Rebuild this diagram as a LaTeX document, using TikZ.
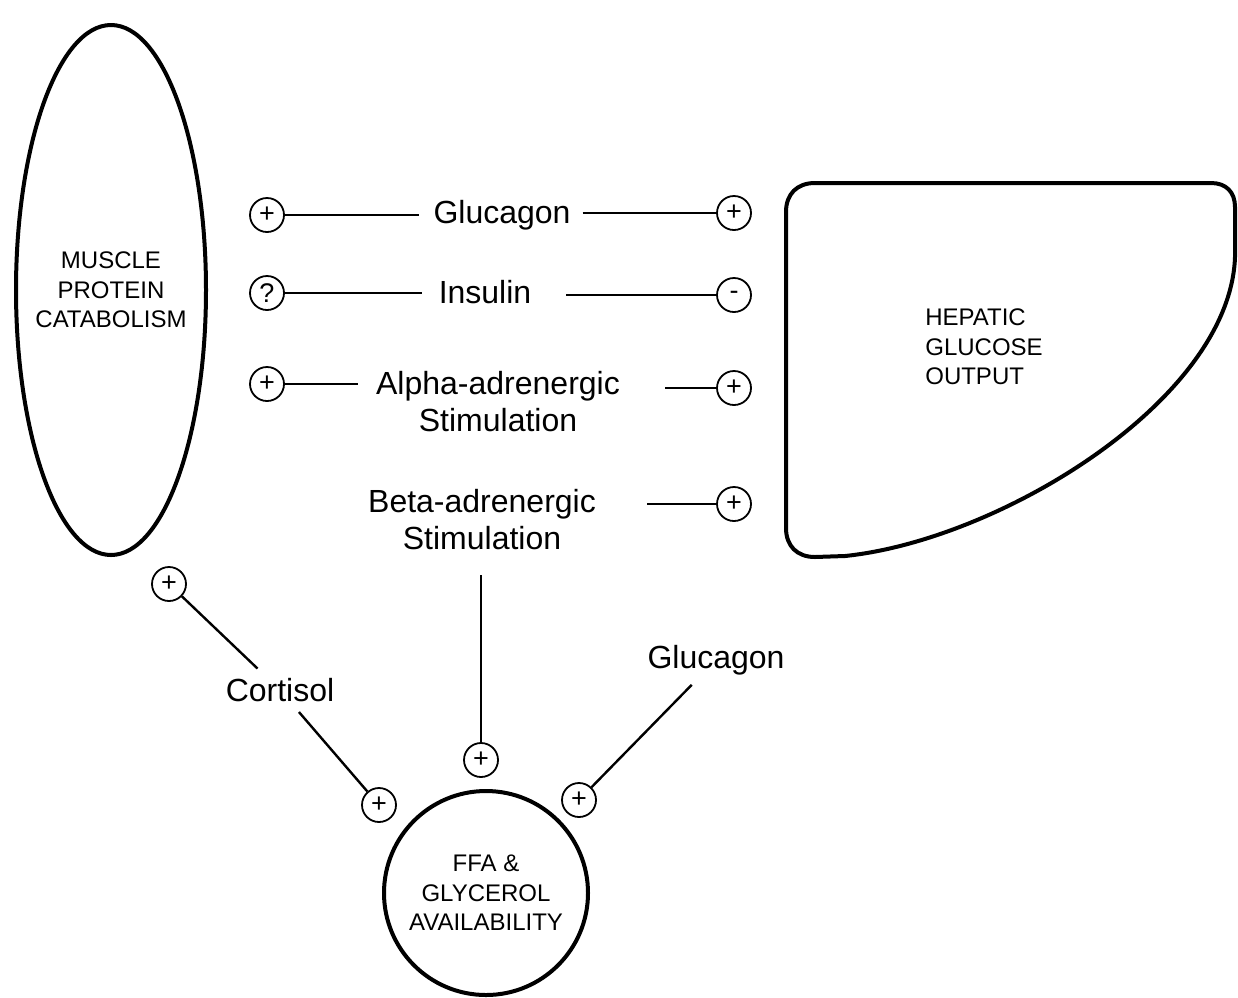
\documentclass[tikz,border=0pt]{standalone}
\usepackage{fontspec}
\setmainfont{Liberation Sans}
\usetikzlibrary{shapes.geometric}
\tikzset{
    sign/.style={circle, draw, line width=1.8pt, minimum size=34pt, inner sep=0pt, font=\fontsize{27}{27}\selectfont},
    hormone/.style={inner sep=0pt, align=center, font=\fontsize{32}{37}\selectfont},
    organ/.style={align=center, font=\fontsize{24}{29.5}\selectfont},
    link/.style={line width=2.4pt},
    outline/.style={line width=4pt}
}

\begin{document}
\begin{tikzpicture}[x=1pt, y=-1pt]
    \useasboundingbox (0, 0) rectangle (1238, 997);
    \node [ellipse, draw, outline, minimum width=190, minimum height=530] (muscle) at (111, 290) {};
    \node [organ] (muscletext) at (muscle) {MUSCLE\\PROTEIN\\CATABOLISM};
    \draw [outline] (786, 212) -- (786, 528) .. controls (786, 546) and (797, 557) .. (815, 557) -- (845, 556) .. controls (1000, 540) and (1230, 400) .. (1235, 257) -- (1235, 207) .. controls (1235, 192) and (1226, 183) .. (1211, 183) -- (815, 183) .. controls (797, 183) and (786, 194) .. (786, 212) -- cycle;
    \node [organ, align=left] (hep) at (984, 347) {HEPATIC\\GLUCOSE\\OUTPUT};
    \node [circle, draw, outline, minimum size=204, organ] (ffa) at (486, 893) {FFA \&\\GLYCEROL\\AVAILABILITY};
    \node [sign] (gA) at (267, 215) {+};
    \node [sign] (gB) at (734, 213) {+};
    \node [sign] (iA) at (267, 293) {?};
    \node [sign] (iB) at (734, 295) {-};
    \node [sign] (aA) at (267, 384) {+};
    \node [sign] (aB) at (734, 388) {+};
    \node [sign] (bB) at (734, 504) {+};
    \node [sign] (cA) at (169, 584) {+};
    \node [sign] (cB) at (379, 805) {+};
    \node [sign] (bF) at (481, 760) {+};
    \node [sign] (gF) at (579, 800) {+};
    \node [hormone] (gluc) at (502, 215) {Glucagon};
    \node [hormone] (ins) at (485, 292) {Insulin};
    \node [hormone] (alpha) at (498, 402) {Alpha-adrenergic\\Stimulation};
    \node [hormone] (beta) at (482, 520) {Beta-adrenergic\\Stimulation};
    \node [hormone, inner sep=4pt] (cort) at (280, 690) {Cortisol};
    \node [hormone, inner sep=4pt] (glucF) at (716, 660) {Glucagon};
    \draw [link, shorten >=14pt] (gA) -- (gA -| gluc.west);
    \draw [link, shorten <=12pt] (gB -| gluc.east) -- (gB);
    \draw [link, shorten >=17pt] (iA) -- (iA -| ins.west);
    \draw [link, shorten <=35pt] (iB -| ins.east) -- (iB);
    \draw [link, shorten >=18pt] (aA) -- (aA -| alpha.west);
    \draw [link, shorten <=45pt] (aB -| alpha.east) -- (aB);
    \draw [link, shorten <=51pt] (bB -| beta.east) -- (bB);
    \draw [link, shorten <=25pt] (beta.south -| bF) -- (bF);
    \draw [link, shorten >=8pt] (cA) -- (cort);
    \draw [link, shorten <=8pt] (cort) -- (cB);
    \draw [link, shorten <=8pt] (glucF) -- (gF);
\end{tikzpicture}
\end{document}
